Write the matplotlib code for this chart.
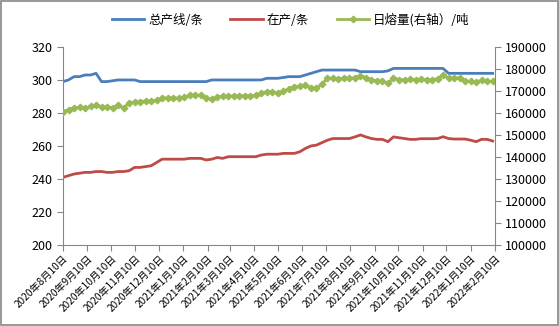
import numpy as np
import pandas as pd
import matplotlib
matplotlib.use('Agg')
import matplotlib.pyplot as plt
from matplotlib.patches import Rectangle

plt.rcParams['font.family'] = ['Noto Sans CJK SC', 'DejaVu Sans']

# 周度数据 2020-08-10 ~ 2022-02-07
dates = pd.date_range('2020-08-10', periods=79, freq='7D')

total_lines = [299, 300, 302, 302, 303, 303, 304, 299, 299, 299.5,
               300, 300, 300, 300, 299, 299, 299, 299, 299, 299,
               299, 299, 299, 299, 299, 299, 299, 300, 300, 300,
               300, 300, 300, 300, 300, 300, 300, 301, 301, 301,
               301.5, 302, 302, 302, 303, 304, 305, 306, 306, 306,
               306, 306, 306, 306, 305, 305, 305, 305, 305, 305.5,
               307, 307, 307, 307, 307, 307, 307, 307, 307, 307,
               304, 304, 304, 304, 304, 304, 304, 304, 304]

running_lines = [241, 242, 243, 243.5, 244, 244, 244.5, 244.5, 244, 244,
                 244.5, 244.5, 245, 247, 247, 247.5, 248, 250, 252, 252,
                 252, 252, 252, 252.5, 252.5, 252.5, 251.5, 252, 253, 252.5,
                 253.5, 253.5, 253.5, 253.5, 253.5, 253.5, 254.5, 255, 255, 255,
                 255.5, 255.5, 255.5, 256.5, 258.5, 260, 260.5, 262, 263.5, 264.5,
                 264.5, 264.5, 264.5, 265.5, 266.7, 265.5, 264.5, 264, 264, 262.6,
                 265.5, 265, 264.5, 264, 264, 264.4, 264.4, 264.4, 264.5, 265.6,
                 264.5, 264.2, 264.2, 264.2, 263.5, 262.6, 264, 264, 263]

daily_melt = [160600, 161500, 162300, 162500, 162200, 163000, 163600, 162800, 162600, 162400,
              163500, 162300, 164500, 165000, 165100, 165500, 165300, 165800, 166800, 166800,
              166900, 166700, 167200, 168000, 168200, 168000, 166600, 166400, 167200, 167700,
              167500, 167800, 167700, 167900, 167700, 168000, 169000, 169700, 169500, 169100,
              169800, 171000, 172000, 172200, 172700, 171500, 171200, 173000, 175800, 175800,
              175600, 175800, 175700, 176000, 177000, 176000, 175000, 174700, 174500, 173500,
              175800, 175200, 175000, 175300, 175200, 175400, 175100, 175200, 175500, 177300,
              175800, 176000, 175800, 174300, 174500, 174000, 174800, 174300, 174300]

tick_dates = pd.date_range('2020-08-10', periods=19, freq=pd.DateOffset(months=1))
tick_labels = [f'{d.year}年{d.month}月10日' for d in tick_dates]

c_blue = '#4A7EBB'
c_red = '#BE4B48'
c_green = '#98B954'
c_axis = '#868686'

fig = plt.figure(figsize=(5.59, 3.26), dpi=100)
ax = fig.add_axes([0.1127, 0.2485, 0.7728, 0.6075])
ax2 = ax.twinx()

l1, = ax.plot(dates, total_lines, color=c_blue, lw=2, label='总产线/条')
l2, = ax.plot(dates, running_lines, color=c_red, lw=2, label='在产/条')
l3, = ax2.plot(dates, daily_melt, color=c_green, lw=2, marker='D', ms=3.3,
               label='日熔量(右轴）/吨')

ax.set_ylim(200, 320)
ax.set_yticks(np.arange(200, 321, 20))
ax2.set_ylim(100000, 190000)
ax2.set_yticks(np.arange(100000, 190001, 10000))
ax.set_xlim(tick_dates[0], tick_dates[-1])
ax.set_xticks(tick_dates)
ax.set_xticklabels(tick_labels, rotation=45, ha='right', rotation_mode='anchor',
                   fontsize=7)

for a in (ax, ax2):
    a.spines['top'].set_visible(False)
    for s in ('left', 'right', 'bottom'):
        a.spines[s].set_color(c_axis)
        a.spines[s].set_linewidth(0.8)
    a.tick_params(colors=c_axis, labelcolor='#000000', labelsize=9, length=4,
                  width=0.8)
ax.tick_params(axis='x', labelsize=7.3, pad=2)
ax.spines['right'].set_visible(False)
ax2.spines['left'].set_visible(False)
ax2.spines['bottom'].set_visible(False)

fig.legend(handles=[l1, l2, l3], loc='upper center', bbox_to_anchor=(0.52, 0.995),
           ncol=3, frameon=False, fontsize=9, handlelength=2.6, columnspacing=2.2,
           handletextpad=0.3)

fig.patches.append(Rectangle((0.002, 0.003), 0.996, 0.994, transform=fig.transFigure,
                             fill=False, edgecolor=c_axis, lw=1.2))

fig.savefig('out.png', dpi=100)
